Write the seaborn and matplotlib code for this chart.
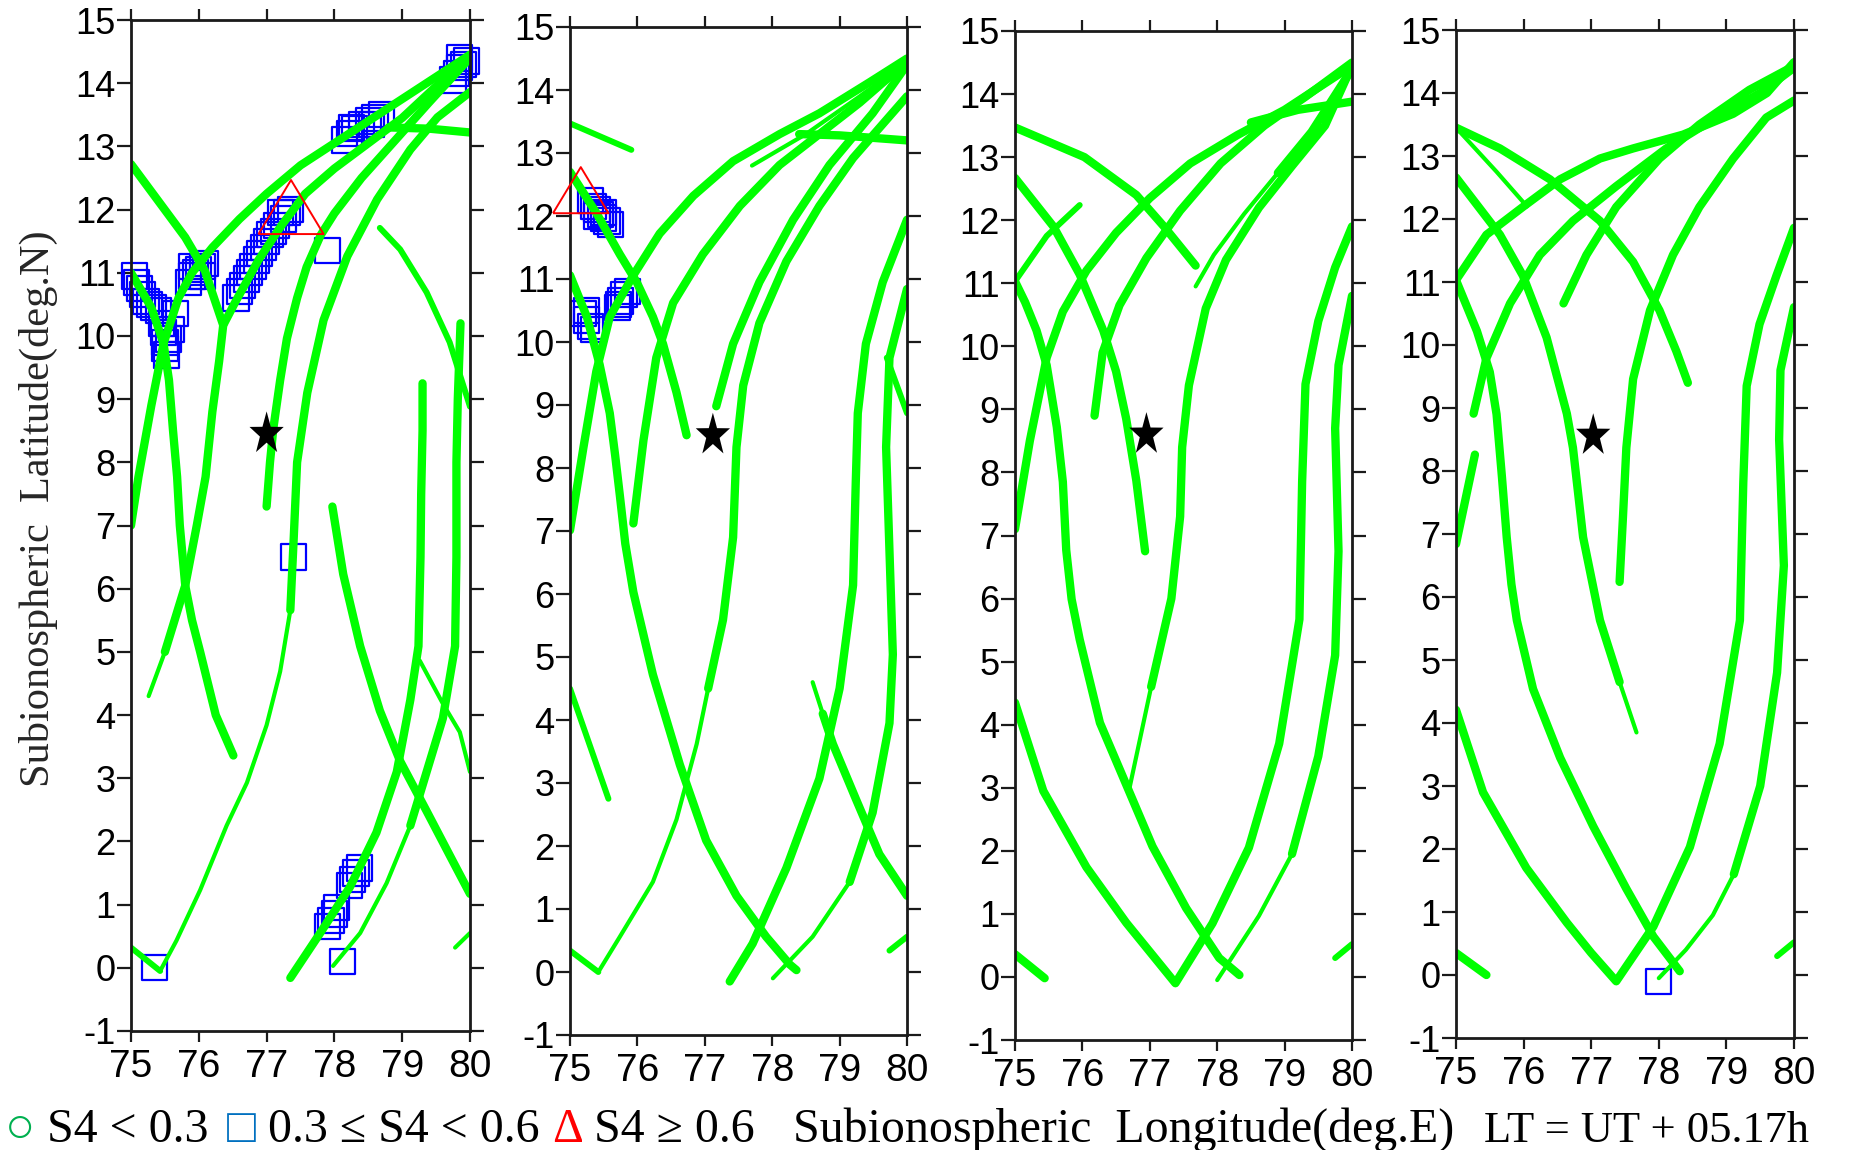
import numpy as np
import matplotlib
matplotlib.use("Agg")
import matplotlib.pyplot as plt
import seaborn as sns

# ---------------- data ----------------
XTICKS = [75, 76, 77, 78, 79, 80]
YTICKS = list(range(-1, 16))

# ---- Panel 1 tracks (lon deg.E, lat deg.N) ----
p1_t01_lon = [75.0, 75.4, 75.8, 76.09, 76.36]
p1_t01_lat = [12.72, 12.14, 11.56, 11.03, 10.17]
p1_t02_lon = [75.0, 75.11, 75.3, 75.48, 75.7, 75.9, 76.2, 76.6, 77.0, 77.5, 78.0, 78.5, 79.0, 79.5, 80.0]
p1_t02_lat = [7.0, 7.77, 8.9, 9.88, 10.6, 11.0, 11.4, 11.85, 12.25, 12.7, 13.05, 13.4, 13.75, 14.1, 14.45]
p1_t03_lon = [75.0, 75.3, 75.48, 75.56, 75.62, 75.68, 75.72, 75.8, 75.9, 76.02, 76.25, 76.51]
p1_t03_lat = [11.0, 10.45, 9.88, 9.3, 8.5, 7.77, 7.0, 6.05, 5.5, 5.0, 4.0, 3.36]
p1_t04a_lon = [75.26, 75.5]
p1_t04a_lat = [4.3, 5.0]
p1_t04b_lon = [75.5, 75.8, 75.97, 76.1, 76.2, 76.3, 76.36, 76.53, 76.88, 77.22, 77.57, 78.0, 78.5, 79.0, 79.5, 80.0]
p1_t04b_lat = [5.0, 6.05, 7.0, 7.77, 8.8, 9.6, 10.17, 10.52, 11.2, 11.75, 12.25, 12.65, 13.05, 13.45, 13.95, 14.45]
p1_t05_lon = [77.0, 77.05, 77.1, 77.2, 77.3, 77.45, 77.59, 77.8, 78.0, 78.4, 78.9, 79.4, 80.0]
p1_t05_lat = [7.3, 8.0, 8.54, 9.3, 9.96, 10.6, 11.09, 11.6, 11.94, 12.5, 13.1, 13.7, 14.4]
p1_t06a_lon = [75.0, 75.43]
p1_t06a_lat = [0.32, -0.05]
p1_t06b_lon = [75.43, 75.67, 76.02, 76.41, 76.71, 77.0, 77.2, 77.35]
p1_t06b_lat = [-0.05, 0.43, 1.23, 2.25, 2.93, 3.84, 4.69, 5.66]
p1_t06c_lon = [77.35, 77.4, 77.45, 77.6, 77.84, 78.19, 78.63, 79.12, 79.52, 80.0]
p1_t06c_lat = [5.66, 6.8, 8.0, 9.1, 10.25, 11.26, 12.16, 12.95, 13.46, 13.86]
p1_t07_lon = [78.8, 79.4, 80.0]
p1_t07_lat = [13.3, 13.28, 13.22]
p1_t08_lon = [77.35, 77.79, 78.23, 78.62, 78.92, 79.12, 79.24, 79.27, 79.28, 79.3, 79.3]
p1_t08_lat = [-0.16, 0.55, 1.28, 2.14, 3.1, 4.24, 5.09, 6.5, 7.5, 8.5, 9.25]
p1_t09a_lon = [77.98, 78.38, 78.77, 79.12]
p1_t09a_lat = [0.03, 0.55, 1.34, 2.25]
p1_t09b_lon = [79.12, 79.36, 79.6, 79.78, 79.8, 79.8, 79.82, 79.86]
p1_t09b_lat = [2.25, 3.1, 3.95, 5.09, 6.5, 8.0, 9.0, 10.2]
p1_t10_lon = [77.97, 78.13, 78.38, 78.67, 78.97, 79.36, 79.75, 80.0]
p1_t10_lat = [7.3, 6.23, 5.09, 4.07, 3.27, 2.48, 1.68, 1.17]
p1_t11_lon = [79.26, 79.6, 79.85, 80.0]
p1_t11_lat = [4.86, 4.18, 3.73, 3.1]
p1_t12_lon = [79.78, 80.0]
p1_t12_lat = [0.32, 0.55]
p1_t13_lon = [78.67, 78.97, 79.36, 79.7, 80.0]
p1_t13_lat = [11.71, 11.37, 10.69, 9.9, 8.88]

# ---- Panel 2 tracks ----
p2_t01_lon = [75.0, 75.91]
p2_t01_lat = [13.47, 13.05]
p2_t02_lon = [75.0, 75.39, 75.74, 75.99, 76.23, 76.38, 76.58, 76.73]
p2_t02_lat = [12.7, 12.05, 11.39, 10.95, 10.4, 9.97, 9.2, 8.52]
p2_t03_lon = [75.0, 75.25, 75.44, 75.59, 75.67, 75.74, 75.82, 75.94, 76.23, 76.63, 77.02, 77.47, 77.91, 78.26, 78.36]
p2_t03_lat = [11.06, 10.4, 9.64, 8.87, 8.2, 7.56, 6.8, 6.03, 4.72, 3.29, 2.09, 1.21, 0.56, 0.12, 0.03]
p2_t04_lon = [75.0, 75.2, 75.39, 75.59, 75.94, 76.33, 76.83, 77.42, 78.11, 78.7, 79.44, 80.0]
p2_t04_lat = [7.01, 8.33, 9.53, 10.4, 11.06, 11.72, 12.32, 12.87, 13.3, 13.63, 14.12, 14.5]
p2_t05_lon = [75.94, 76.09, 76.28, 76.53, 76.97, 77.52, 78.11, 78.7, 79.3, 80.0]
p2_t05_lat = [7.12, 8.44, 9.75, 10.62, 11.39, 12.16, 12.81, 13.3, 13.8, 14.45]
p2_t06_lon = [77.17, 77.42, 77.81, 78.31, 78.85, 79.49, 80.0]
p2_t06_lat = [8.98, 9.97, 10.95, 11.94, 12.81, 13.63, 14.4]
p2_t07a_lon = [75.0, 75.42]
p2_t07a_lat = [0.34, 0.0]
p2_t07b_lon = [75.42, 75.74, 76.23, 76.58, 76.88, 77.05]
p2_t07b_lat = [0.0, 0.56, 1.43, 2.42, 3.62, 4.5]
p2_t07c_lon = [77.05, 77.27, 77.42, 77.47, 77.57, 77.81, 78.21, 78.7, 79.2, 80.0]
p2_t07c_lat = [4.5, 5.59, 6.9, 8.33, 9.31, 10.3, 11.28, 12.16, 12.92, 13.9]
p2_t08_lon = [78.4, 79.0, 80.0]
p2_t08_lat = [13.3, 13.28, 13.2]
p2_t09_lon = [77.37, 77.71, 78.21, 78.7, 79.0, 79.2, 79.24, 79.27, 79.39, 79.64, 80.0]
p2_t09_lat = [-0.15, 0.45, 1.65, 3.07, 4.5, 6.14, 7.78, 8.87, 9.97, 10.95, 11.94]
p2_t10a_lon = [78.6, 78.75]
p2_t10a_lat = [4.6, 4.1]
p2_t10b_lon = [78.75, 78.9, 79.24, 79.59, 80.0]
p2_t10b_lat = [4.1, 3.62, 2.75, 1.87, 1.21]
p2_t11a_lon = [78.01, 78.6, 79.15]
p2_t11a_lat = [-0.1, 0.56, 1.43]
p2_t11b_lon = [79.15, 79.49, 79.74, 79.79, 79.74, 79.69, 79.74, 80.0]
p2_t11b_lat = [1.43, 2.53, 3.95, 5.04, 6.68, 8.33, 9.75, 10.84]
p2_t12_lon = [79.7, 80.0]
p2_t12_lat = [9.75, 8.87]
p2_t13_lon = [79.74, 80.0]
p2_t13_lat = [0.34, 0.56]
p2_t14_lon = [75.0, 75.57]
p2_t14_lat = [4.5, 2.75]
p2_t15_lon = [77.7, 78.5, 79.3, 80.0]
p2_t15_lat = [12.8, 13.3, 13.9, 14.45]

# ---- Panel 3 tracks ----
p3_t01_lon = [75.0, 76.03, 76.8, 77.21, 77.68]
p3_t01_lat = [13.47, 13.0, 12.4, 11.9, 11.28]
p3_t02_lon = [75.0, 75.57, 75.96, 76.31, 76.5, 76.65, 76.8, 76.93]
p3_t02_lat = [12.67, 11.9, 11.14, 10.25, 9.6, 8.85, 7.87, 6.75]
p3_t03_lon = [75.0, 75.47, 75.96]
p3_t03_lat = [11.03, 11.75, 12.24]
p3_t04_lon = [75.0, 75.15, 75.32, 75.47, 75.62, 75.71, 75.76, 75.84, 75.96, 76.26, 76.65, 77.04, 77.54, 78.03, 78.33]
p3_t04_lat = [11.03, 10.7, 10.25, 9.7, 8.72, 7.85, 6.77, 5.99, 5.35, 4.03, 3.05, 2.07, 1.09, 0.3, 0.03]
p3_t05_lon = [75.0, 75.22, 75.47, 75.71, 76.06, 76.5, 77.0, 77.6, 78.3, 79.0, 79.5, 80.0]
p3_t05_lat = [7.1, 8.5, 9.82, 10.55, 11.2, 11.8, 12.35, 12.9, 13.35, 13.75, 14.1, 14.45]
p3_t06_lon = [76.18, 76.3, 76.55, 76.95, 77.45, 78.05, 78.7, 79.3, 80.0]
p3_t06_lat = [8.9, 9.9, 10.65, 11.4, 12.15, 12.9, 13.5, 13.95, 14.5]
p3_t07a_lon = [77.68, 77.95, 78.4, 78.9]
p3_t07a_lat = [10.95, 11.45, 12.1, 12.75]
p3_t07b_lon = [78.9, 79.4, 80.0]
p3_t07b_lat = [12.75, 13.4, 14.4]
p3_t08a_lon = [76.7, 77.02]
p3_t08a_lat = [3.0, 4.6]
p3_t08b_lon = [77.02, 77.32, 77.45, 77.48, 77.58, 77.83, 78.13, 78.62, 79.11, 79.6, 80.0]
p3_t08b_lat = [4.6, 6.0, 7.3, 8.4, 9.38, 10.6, 11.37, 12.2, 12.86, 13.5, 14.45]
p3_t09_lon = [75.0, 75.42, 76.06, 76.65, 77.0, 77.38, 77.93, 78.47, 78.92, 79.22, 79.26, 79.31, 79.5, 79.75, 80.0]
p3_t09_lat = [4.35, 2.95, 1.74, 0.86, 0.4, -0.1, 0.85, 2.05, 3.7, 5.67, 7.85, 9.4, 10.4, 11.25, 11.9]
p3_t10a_lon = [78.0, 78.62, 79.11]
p3_t10a_lat = [-0.05, 0.97, 1.95]
p3_t10b_lon = [79.11, 79.5, 79.75, 79.8, 79.75, 79.8, 80.0]
p3_t10b_lat = [1.95, 3.5, 5.1, 6.75, 8.7, 9.7, 10.8]
p3_t11_lon = [75.0, 75.44]
p3_t11_lat = [0.36, -0.02]
p3_t12_lon = [79.75, 80.0]
p3_t12_lat = [0.3, 0.52]
p3_t13_lon = [78.5, 79.2, 80.0]
p3_t13_lat = [13.55, 13.75, 13.88]

# ---- Panel 4 tracks ----
p4_t01_lon = [75.0, 75.65, 76.39, 77.13, 77.62, 78.01, 78.26, 78.43]
p4_t01_lat = [13.45, 13.12, 12.63, 11.97, 11.32, 10.55, 9.9, 9.4]
p4_t02_lon = [75.0, 75.6, 76.05]
p4_t02_lat = [13.45, 12.75, 12.2]
p4_t03a_lon = [75.0, 75.65, 75.99, 76.34, 76.64, 76.73, 76.88, 77.13, 77.42]
p4_t03a_lat = [12.66, 11.75, 11.1, 10.12, 8.91, 8.37, 6.95, 5.63, 4.65]
p4_t03b_lon = [77.42, 77.67]
p4_t03b_lat = [4.65, 3.85]
p4_t04_lon = [75.0, 75.45, 76.0, 76.54, 77.13, 77.62, 78.36, 79.1, 79.6, 80.0]
p4_t04_lat = [11.03, 11.75, 12.2, 12.63, 12.96, 13.12, 13.34, 13.67, 14.0, 14.49]
p4_t05_lon = [75.0, 75.31, 75.5, 75.6, 75.68, 75.75, 75.82, 75.9, 76.14, 76.54, 77.03, 77.52, 77.92, 78.31]
p4_t05_lat = [11.03, 10.22, 9.57, 8.9, 7.9, 6.95, 6.2, 5.63, 4.54, 3.45, 2.36, 1.37, 0.61, 0.06]
p4_t06a_lon = [75.0, 75.28]
p4_t06a_lat = [6.84, 8.26]
p4_t06b_lon = [75.26, 75.45, 75.8, 76.24, 76.73, 77.37, 78.11, 78.85, 79.5, 80.0]
p4_t06b_lat = [8.91, 9.79, 10.66, 11.43, 11.97, 12.52, 13.12, 13.61, 14.0, 14.4]
p4_t07_lon = [76.59, 76.93, 77.37, 78.01, 78.6, 79.34, 80.0]
p4_t07_lat = [10.66, 11.43, 12.19, 12.96, 13.5, 14.05, 14.43]
p4_t08_lon = [77.42, 77.47, 77.52, 77.62, 77.87, 78.21, 78.6, 79.1, 79.59, 80.0]
p4_t08_lat = [6.24, 7.27, 8.37, 9.46, 10.55, 11.43, 12.19, 12.96, 13.61, 13.88]
p4_t09_lon = [75.0, 75.4, 76.04, 76.64, 77.0, 77.37, 77.92, 78.46, 78.9, 79.2, 79.25, 79.3, 79.49, 79.74, 80.0]
p4_t09_lat = [4.21, 2.9, 1.7, 0.83, 0.35, -0.1, 0.77, 2.03, 3.67, 5.63, 7.82, 9.35, 10.33, 11.1, 11.86]
p4_t10a_lon = [78.0, 78.4, 78.8, 79.11]
p4_t10a_lat = [-0.05, 0.4, 0.95, 1.6]
p4_t10b_lon = [79.11, 79.5, 79.75, 79.85, 79.78, 79.8, 80.0]
p4_t10b_lat = [1.6, 3.0, 4.8, 6.5, 8.5, 9.6, 10.6]
p4_t11_lon = [75.0, 75.45]
p4_t11_lat = [0.35, 0.0]
p4_t12_lon = [79.75, 80.0]
p4_t12_lat = [0.3, 0.52]

# ---- S4 markers ----
p1_sq_lon = [75.05, 75.08, 75.12, 75.17, 75.22, 75.27, 75.33, 75.4, 75.66, 75.45, 75.48, 75.5, 75.5, 75.52, 75.55, 75.6,
             75.85, 75.9, 75.95, 76.0, 76.05, 76.1, 75.9, 76.05,
             76.55, 76.6, 76.65, 76.7, 76.75, 76.8, 76.85, 76.9, 76.95, 77.0, 77.05, 77.1, 77.15, 77.25, 77.3, 77.35, 77.2,
             77.9, 77.4, 75.35, 78.12,
             77.9, 77.95, 78.0, 78.03, 78.22, 78.27, 78.32, 78.37,
             78.15, 78.22, 78.3, 78.4, 78.5, 78.6, 78.7, 78.25, 78.55,
             79.75, 79.8, 79.85, 79.9, 79.95, 79.85]
p1_sq_lat = [10.95, 10.85, 10.75, 10.65, 10.55, 10.5, 10.45, 10.4, 10.35, 10.2, 10.05, 9.9, 9.8, 9.7, 9.95, 10.1,
             10.85, 10.95, 11.0, 11.05, 11.1, 11.15, 11.1, 10.95,
             10.6, 10.7, 10.8, 10.9, 11.0, 11.1, 11.2, 11.3, 11.4, 11.5, 11.6, 11.65, 11.75, 11.85, 11.95, 12.0, 11.95,
             11.35, 6.5, 0.0, 0.1,
             0.65, 0.75, 0.85, 0.95, 1.3, 1.4, 1.5, 1.58,
             13.1, 13.2, 13.28, 13.35, 13.4, 13.45, 13.5, 13.3, 13.35,
             14.05, 14.15, 14.25, 14.3, 14.35, 14.4]
p1_tri_lon = [77.36]
p1_tri_lat = [12.04]
p2_sq_lon = [75.3, 75.35, 75.4, 75.45, 75.5, 75.55, 75.6, 75.4, 75.5,
             75.2, 75.25, 75.3, 75.35, 75.25, 75.7, 75.75, 75.8, 75.85, 75.72]
p2_sq_lat = [12.25, 12.15, 12.1, 12.02, 11.97, 11.92, 11.87, 12.0, 12.05,
             10.45, 10.35, 10.25, 10.2, 10.5, 10.55, 10.65, 10.75, 10.8, 10.6]
p2_tri_lon = [75.16]
p2_tri_lat = [12.41]
p3_sq_lon = []
p3_sq_lat = []
p4_sq_lon = [78.0]
p4_sq_lat = [-0.1]

# station (star) per panel
star_lon = [77.0, 77.12, 76.95, 77.03]
star_lat = [8.45, 8.52, 8.6, 8.56]

YLABEL = "Subionospheric  Latitude(deg.N)"
LEGEND_TEXTS = ["○", "S4 < 0.3", "□", "0.3 ≤ S4 < 0.6", "Δ", "S4 ≥ 0.6",
                "Subionospheric  Longitude(deg.E)", "LT = UT + 05.17h"]

# ---------------- styles / layout ----------------
GREEN = "#00FF00"
BLUE = "#0000FF"
RED = "#FF0000"
LW = {"k": 6.0, "m": 4.3, "t": 3.0}

TRACKS = [
    (0, p1_t01_lon, p1_t01_lat, "k"), (0, p1_t02_lon, p1_t02_lat, "k"),
    (0, p1_t03_lon, p1_t03_lat, "k"), (0, p1_t04a_lon, p1_t04a_lat, "t"),
    (0, p1_t04b_lon, p1_t04b_lat, "k"), (0, p1_t05_lon, p1_t05_lat, "k"),
    (0, p1_t06a_lon, p1_t06a_lat, "m"), (0, p1_t06b_lon, p1_t06b_lat, "t"),
    (0, p1_t06c_lon, p1_t06c_lat, "k"), (0, p1_t07_lon, p1_t07_lat, "k"),
    (0, p1_t08_lon, p1_t08_lat, "k"), (0, p1_t09a_lon, p1_t09a_lat, "t"),
    (0, p1_t09b_lon, p1_t09b_lat, "k"), (0, p1_t10_lon, p1_t10_lat, "k"),
    (0, p1_t11_lon, p1_t11_lat, "t"), (0, p1_t12_lon, p1_t12_lat, "t"),
    (0, p1_t13_lon, p1_t13_lat, "m"),
    (1, p2_t01_lon, p2_t01_lat, "m"), (1, p2_t02_lon, p2_t02_lat, "k"),
    (1, p2_t03_lon, p2_t03_lat, "k"), (1, p2_t04_lon, p2_t04_lat, "k"),
    (1, p2_t05_lon, p2_t05_lat, "k"), (1, p2_t06_lon, p2_t06_lat, "k"),
    (1, p2_t07a_lon, p2_t07a_lat, "m"), (1, p2_t07b_lon, p2_t07b_lat, "t"),
    (1, p2_t07c_lon, p2_t07c_lat, "k"), (1, p2_t08_lon, p2_t08_lat, "k"),
    (1, p2_t09_lon, p2_t09_lat, "k"), (1, p2_t10a_lon, p2_t10a_lat, "t"),
    (1, p2_t10b_lon, p2_t10b_lat, "k"), (1, p2_t11a_lon, p2_t11a_lat, "t"),
    (1, p2_t11b_lon, p2_t11b_lat, "k"), (1, p2_t12_lon, p2_t12_lat, "m"),
    (1, p2_t13_lon, p2_t13_lat, "m"), (1, p2_t14_lon, p2_t14_lat, "m"),
    (1, p2_t15_lon, p2_t15_lat, "t"),
    (2, p3_t01_lon, p3_t01_lat, "k"), (2, p3_t02_lon, p3_t02_lat, "k"),
    (2, p3_t03_lon, p3_t03_lat, "m"), (2, p3_t04_lon, p3_t04_lat, "k"),
    (2, p3_t05_lon, p3_t05_lat, "k"), (2, p3_t06_lon, p3_t06_lat, "k"),
    (2, p3_t07a_lon, p3_t07a_lat, "t"), (2, p3_t07b_lon, p3_t07b_lat, "k"),
    (2, p3_t08a_lon, p3_t08a_lat, "t"), (2, p3_t08b_lon, p3_t08b_lat, "k"),
    (2, p3_t09_lon, p3_t09_lat, "k"), (2, p3_t10a_lon, p3_t10a_lat, "t"),
    (2, p3_t10b_lon, p3_t10b_lat, "k"), (2, p3_t11_lon, p3_t11_lat, "k"),
    (2, p3_t12_lon, p3_t12_lat, "m"), (2, p3_t13_lon, p3_t13_lat, "k"),
    (3, p4_t01_lon, p4_t01_lat, "k"), (3, p4_t02_lon, p4_t02_lat, "t"),
    (3, p4_t03a_lon, p4_t03a_lat, "k"), (3, p4_t03b_lon, p4_t03b_lat, "t"),
    (3, p4_t04_lon, p4_t04_lat, "k"), (3, p4_t05_lon, p4_t05_lat, "k"),
    (3, p4_t06a_lon, p4_t06a_lat, "k"), (3, p4_t06b_lon, p4_t06b_lat, "k"),
    (3, p4_t07_lon, p4_t07_lat, "k"), (3, p4_t08_lon, p4_t08_lat, "k"),
    (3, p4_t09_lon, p4_t09_lat, "k"), (3, p4_t10a_lon, p4_t10a_lat, "t"),
    (3, p4_t10b_lon, p4_t10b_lat, "k"), (3, p4_t11_lon, p4_t11_lat, "k"),
    (3, p4_t12_lon, p4_t12_lat, "m"),
]
SQUARES = [(p1_sq_lon, p1_sq_lat), (p2_sq_lon, p2_sq_lat), (p3_sq_lon, p3_sq_lat), (p4_sq_lon, p4_sq_lat)]
TRIANGLES = [(0, p1_tri_lon, p1_tri_lat, 2200), (1, p2_tri_lon, p2_tri_lat, 1600)]

# marker shapes
TRI_MARK = [(-1.0, -0.83), (1.0, -0.83), (0.0, 0.83), (-1.0, -0.83)]
_ang = np.pi / 2 + np.arange(10) * np.pi / 5
_rad = np.where(np.arange(10) % 2 == 0, 1.0, 0.39)
STAR_MARK = np.column_stack([_rad * np.cos(_ang), 1.25 * _rad * np.sin(_ang)])
STAR_MARK = np.vstack([STAR_MARK, STAR_MARK[:1]])

# ---------------- figure ----------------
sns.set_style("ticks")
plt.rcParams["font.family"] = ["Liberation Sans", "DejaVu Sans"]
plt.rcParams["axes.unicode_minus"] = False

W, H = 1850, 1150
fig = plt.figure(figsize=(W / 100, H / 100), dpi=100)
fig.patch.set_facecolor("white")

BOXES = [(131, 470, 20, 1031), (570, 907, 27, 1035), (1015, 1352, 31, 1040), (1456, 1794, 30, 1038)]
axes = []
for (x0, x1, y0, y1) in BOXES:
    ax = fig.add_axes([x0 / W, 1 - y1 / H, (x1 - x0) / W, (y1 - y0) / H])
    ax.set_facecolor("white")
    axes.append(ax)

for pi, lon, lat, w in TRACKS:
    sns.lineplot(x=lon, y=lat, sort=False, estimator=None, color=GREEN,
                 linewidth=LW[w], solid_capstyle="round", solid_joinstyle="round",
                 ax=axes[pi], legend=False, zorder=2)

for pi, (slon, slat) in enumerate(SQUARES):
    if len(slon):
        sns.scatterplot(x=slon, y=slat, marker="s", s=330, color=BLUE,
                        facecolor="none", edgecolor=BLUE, linewidth=1.6,
                        ax=axes[pi], legend=False, clip_on=False, zorder=1.5)

for pi, tlon, tlat, sz in TRIANGLES:
    sns.scatterplot(x=tlon, y=tlat, marker=TRI_MARK, s=sz, color=RED,
                    facecolor="none", edgecolor=RED, linewidth=1.4,
                    ax=axes[pi], legend=False, clip_on=False, zorder=4)

for pi, ax in enumerate(axes):
    sns.scatterplot(x=[star_lon[pi]], y=[star_lat[pi]], marker=STAR_MARK, s=1050,
                    color="black", edgecolor="none", ax=ax, legend=False, zorder=5)

for ax in axes:
    ax.set_xlim(75, 80)
    ax.set_ylim(-1, 15)
    ax.set_xticks(XTICKS)
    ax.set_yticks(YTICKS)
    ax.set_xlabel("")
    ax.set_ylabel("")
    ax.tick_params(axis="both", which="both", direction="out", top=True, right=True,
                   labeltop=False, labelright=False, width=1.6, color="#1a1a1a",
                   labelcolor="black")
    ax.tick_params(axis="y", length=10, pad=1, labelsize=26)
    ax.tick_params(axis="x", length=8, pad=5, labelsize=28)
    for sp in ax.spines.values():
        sp.set_visible(True)
        sp.set_linewidth(2.0)
        sp.set_color("#1a1a1a")

SERIF = ["Liberation Serif", "DejaVu Serif", "DejaVu Sans"]
fig.text(38 / W, 1 - 509 / H, YLABEL, rotation=90, ha="center", va="center",
         fontsize=30.5, family=SERIF)

leg_x = [5, 47, 227, 268, 552, 594, 793, 1484]
leg_c = ["#00B050", "black", "#0070C0", "black", RED, "black", "black", "black"]
leg_fs = [36, 34.5, 34.5, 34.5, 34.5, 34.5, 34.5, 32]
for s, x, c, fs in zip(LEGEND_TEXTS, leg_x, leg_c, leg_fs):
    fig.text(x / W, 1 - 1142 / H, s, ha="left", va="baseline", fontsize=fs,
             color=c, family=SERIF)

fig.savefig("out.png", dpi=100)
